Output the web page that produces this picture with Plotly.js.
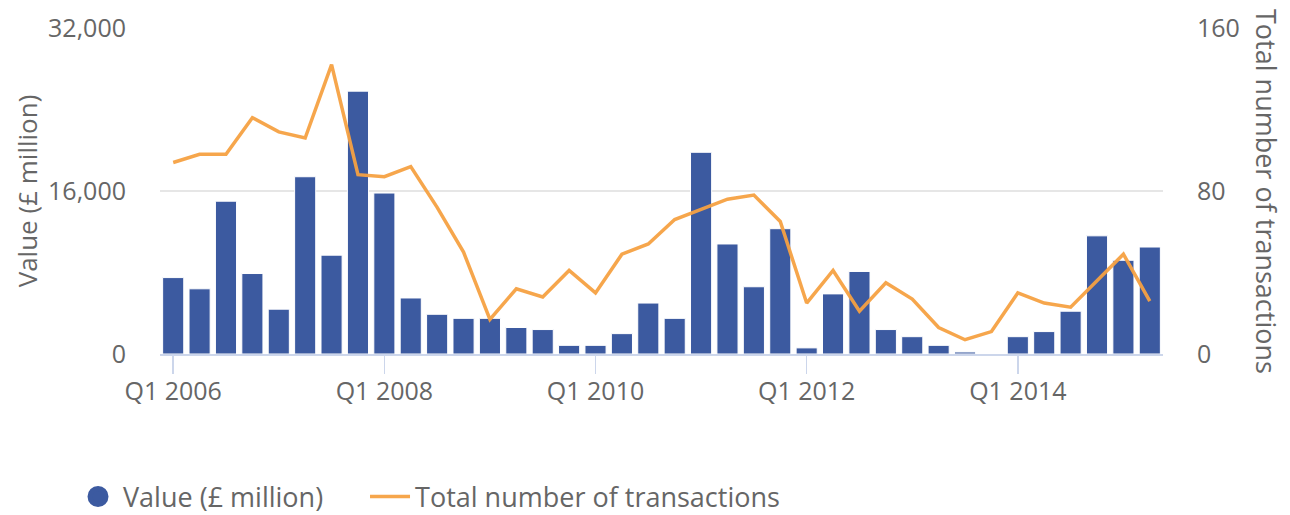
<!DOCTYPE html>
<html>
<head>
<meta charset="utf-8">
<script src="https://cdn.plot.ly/plotly-3.0.1.min.js"></script>
<style>html,body{margin:0;padding:0;background:#fff}#chart{width:1290px;height:515px}</style>
</head>
<body>
<div id="chart"></div>
<script>
const quarters = [
  "Q1 2006","Q2 2006","Q3 2006","Q4 2006",
  "Q1 2007","Q2 2007","Q3 2007","Q4 2007",
  "Q1 2008","Q2 2008","Q3 2008","Q4 2008",
  "Q1 2009","Q2 2009","Q3 2009","Q4 2009",
  "Q1 2010","Q2 2010","Q3 2010","Q4 2010",
  "Q1 2011","Q2 2011","Q3 2011","Q4 2011",
  "Q1 2012","Q2 2012","Q3 2012","Q4 2012",
  "Q1 2013","Q2 2013","Q3 2013","Q4 2013",
  "Q1 2014","Q2 2014","Q3 2014","Q4 2014",
  "Q1 2015","Q2 2015"
];
const valueMillion = [
  7500, 6400, 15000, 7900,
  4400, 17400, 9700, 25800,
  15800, 5500, 3900, 3500,
  3500, 2600, 2400, 850,
  850, 2000, 5000, 3500,
  19800, 10800, 6600, 12300,
  600, 5900, 8100, 2400,
  1700, 850, 200, null,
  1700, 2200, 4200, 11600,
  9200, 10500
];
const transactions = [
  94, 98, 98, 116,
  109, 106, 142, 88,
  87, 92, 72, 50,
  17, 32, 28, 41,
  30, 49, 54, 66,
  71, 76, 78, 65,
  25, 41, 21, 35,
  27, 13, 7, 11,
  30, 25, 23, 36,
  49, 26
];
const xTickLabels = ["Q1 2006","Q1 2008","Q1 2010","Q1 2012","Q1 2014"];
const leftTicks = [0, 16000, 32000];
const rightTicks = [0, 80, 160];

const FONT = "Open Sans, Noto Sans, sans-serif";
const GREY = "#666666";
const BLUE = "#3c5aa0";
const ORANGE = "#f6a142";

const traces = [
  {
    type: "bar",
    name: "Value (£ million)",
    x: quarters,
    y: valueMillion,
    marker: {color: BLUE, line: {color: "#ffffff", width: 1}},
    showlegend: false,
    hoverinfo: "x+y"
  },
  {
    type: "scatter",
    mode: "markers",
    name: "Value (£ million)",
    x: [null],
    y: [null],
    marker: {color: BLUE, size: 16, symbol: "circle", line: {color: BLUE, width: 5}},
    showlegend: true,
    legendwidth: 237,
    hoverinfo: "skip"
  },
  {
    type: "scatter",
    mode: "lines",
    name: "Total number of transactions",
    x: quarters,
    y: transactions,
    yaxis: "y2",
    line: {color: ORANGE, width: 3.5},
    opacity: 0.95
  }
];

const layout = {
  width: 1290,
  height: 515,
  margin: {l: 160, r: 127, t: 28, b: 161},
  paper_bgcolor: "#ffffff",
  plot_bgcolor: "#ffffff",
  font: {family: FONT, color: GREY, size: 25},
  bargap: 0.2,
  showlegend: true,
  legend: {
    orientation: "h",
    xref: "container", yref: "container",
    x: 0.0566, xanchor: "left",
    y: 0.035, yanchor: "middle",
    font: {family: FONT, size: 27, color: GREY},
    itemsizing: "trace",
    itemwidth: 40,
    traceorder: "normal"
  },
  xaxis: {
    type: "category",
    range: [-0.5, quarters.length - 0.5],
    tickmode: "array",
    tickvals: xTickLabels,
    ticktext: xTickLabels,
    ticks: "outside",
    ticklen: 18,
    tickwidth: 1.5,
    tickcolor: "#ccd6eb",
    ticklabelstandoff: -4,
    showline: true,
    linecolor: "#ccd6eb",
    linewidth: 2,
    showgrid: false,
    tickfont: {family: FONT, size: 25, color: GREY},
    fixedrange: true
  },
  yaxis: {
    range: [0, 32000],
    tickmode: "array",
    tickvals: leftTicks,
    tickformat: ",d",
    showgrid: true,
    gridcolor: "#e6e6e6",
    gridwidth: 2,
    zeroline: false,
    showline: false,
    ticks: "",
    ticklabelstandoff: 33,
    tickfont: {family: FONT, size: 25, color: GREY},
    title: {text: "Value (£ million)", font: {family: FONT, size: 26, color: GREY}, standoff: 2},
    fixedrange: true
  },
  yaxis2: {
    overlaying: "y",
    side: "right",
    range: [0, 160],
    tickmode: "array",
    tickvals: rightTicks,
    showgrid: false,
    zeroline: false,
    showline: false,
    ticks: "",
    ticklabelstandoff: 33,
    tickfont: {family: FONT, size: 25, color: GREY},
    fixedrange: true
  },
  annotations: [
    {
      text: "Total number of transactions",
      xref: "paper", yref: "paper",
      x: 1, y: 0.5,
      xanchor: "center", yanchor: "middle",
      xshift: 104,
      textangle: 90,
      showarrow: false,
      font: {family: FONT, size: 27, color: GREY}
    }
  ]
};

Plotly.newPlot("chart", traces, layout, {displayModeBar: false, staticPlot: true});
</script>
</body>
</html>
